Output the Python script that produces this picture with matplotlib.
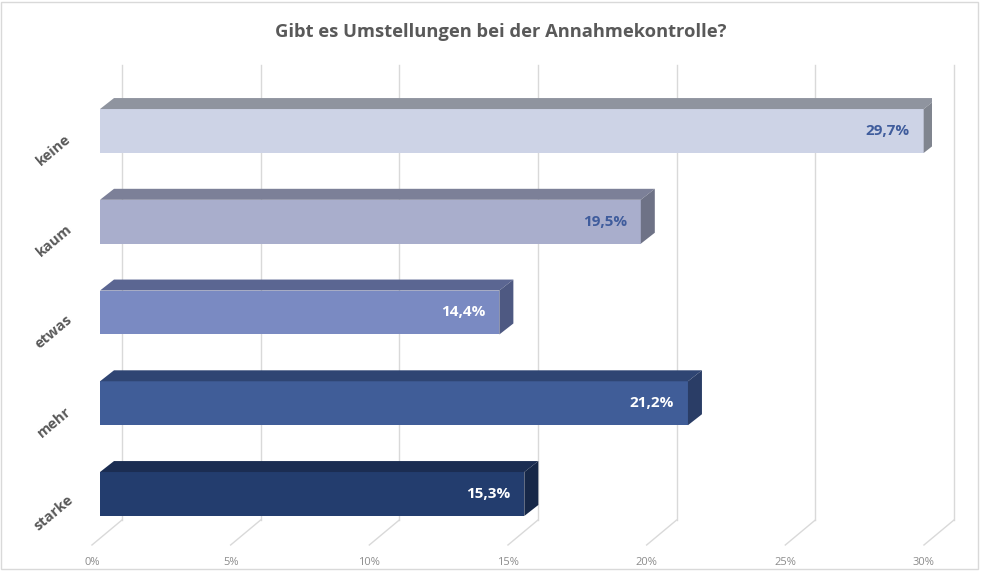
import matplotlib
matplotlib.use("Agg")
import matplotlib.pyplot as plt
from matplotlib.patches import Polygon, Rectangle

# data
categories = ["keine", "kaum", "etwas", "mehr", "starke"]
values = [29.7, 19.5, 14.4, 21.2, 15.3]
labels = ["29,7%", "19,5%", "14,4%", "21,2%", "15,3%"]
ticks = [0, 5, 10, 15, 20, 25, 30]
tick_labels = ["0%", "5%", "10%", "15%", "20%", "25%", "30%"]
title = "Gibt es Umstellungen bei der Annahmekontrolle?"

# colours: front, top, side
front_c = ["#CDD3E6", "#A9AECC", "#7A8AC2", "#405D98", "#233D6E"]
top_c = ["#8F949F", "#7C8098", "#5B6692", "#2F4573", "#1B2D52"]
side_c = ["#80858F", "#6E7286", "#4E5982", "#2A3D66", "#172848"]
label_c = ["#3F5C9C", "#3F5C9C", "white", "white", "white"]

plt.rcParams['font.family'] = ['Open Sans', 'DejaVu Sans']

fig = plt.figure(figsize=(9.82, 5.71), dpi=100)
ax = fig.add_axes([100 / 982, 0, 832 / 982, 1])
ax.set_xlim(0, 30)
ax.set_ylim(4.8485, -1.4435)
ax.axis("off")

h = 0.242          # half bar height
bdx, bdy = 0.505, -0.121   # bar depth
fdx, fdy = 0.79, -0.275    # back wall offset
front_floor = 4.562
grid_top = -0.727
grid_c = "#D9D9D9"

for t in ticks:
    # back wall gridline
    ax.plot([t + fdx, t + fdx], [front_floor + fdy, grid_top], color=grid_c,
            lw=1, zorder=1, clip_on=False)
    # floor line
    ax.plot([t - 0.29, t + fdx], [front_floor, front_floor + fdy], color=grid_c,
            lw=1, zorder=1, clip_on=False)
for t, tl in zip(ticks, tick_labels):
    ax.text(t - 0.29, 4.75, tl, ha="center", va="center", fontsize=8,
            color="#8C8C8C")

for i, (cat, v) in enumerate(zip(categories, values)):
    y0, y1 = i - h, i + h
    ax.add_patch(Rectangle((0, y0), v, 2 * h, facecolor=front_c[i],
                           edgecolor="none", zorder=3))
    ax.add_patch(Polygon([(0, y0), (v, y0), (v + bdx, y0 + bdy), (bdx, y0 + bdy)],
                         closed=True, facecolor=top_c[i], edgecolor="none", zorder=3))
    ax.add_patch(Polygon([(v, y0), (v + bdx, y0 + bdy), (v + bdx, y1 + bdy), (v, y1)],
                         closed=True, facecolor=side_c[i], edgecolor="none", zorder=3))
    ax.text(v - 0.5, i, labels[i], ha="right", va="center", fontsize=11,
            fontweight="bold", color=label_c[i], zorder=4)
    ax.text(-1.66, i + 0.21, cat, ha="center", va="center", rotation=40,
            fontsize=10.5, fontweight="bold", color="#595959", clip_on=False)

fig.text(501 / 982, 1 - 32 / 571, title, ha="center", va="center", fontsize=13.2,
         fontweight="bold", color="#595959")

fig.patches.append(Rectangle((1 / 982, 2 / 571), 977 / 982, 567 / 571,
                             transform=fig.transFigure, fill=False,
                             edgecolor="#D9D9D9", lw=1))

fig.savefig("out.png", dpi=100)
